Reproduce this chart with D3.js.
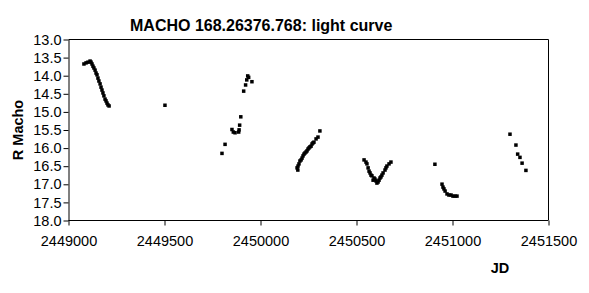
<!DOCTYPE html>
<html>
<head>
<meta charset="utf-8">
<script src="https://cdn.jsdelivr.net/npm/d3@7"></script>
<style>
  body { margin: 0; background: #fff; }
  svg { font-family: "Liberation Sans", Arial, sans-serif; }
</style>
</head>
<body>
<div id="chart"></div>
<script>
    // light curve
    var jd = [
      2449083, 2449094, 2449104, 2449115, 2449120, 2449125, 2449130, 2449135, 2449141, 2449146,
      2449151, 2449156, 2449161, 2449167, 2449172, 2449177, 2449182, 2449187, 2449193, 2449198,
      2449203, 2449208, 2449214,
      2449505,
      2449802, 2449818, 2449854, 2449861, 2449870, 2449889, 2449891, 2449894, 2449900,
      2449915, 2449925, 2449931, 2449936, 2449941, 2449958,
      2450193, 2450197, 2450198, 2450203, 2450208, 2450214, 2450219, 2450224, 2450229, 2450234,
      2450240, 2450245, 2450250, 2450255, 2450260, 2450266, 2450271, 2450276, 2450281, 2450292,
      2450302, 2450312,
      2450542, 2450552, 2450557, 2450563, 2450568, 2450573, 2450578, 2450583, 2450589, 2450594,
      2450599, 2450604, 2450609, 2450615, 2450620, 2450625, 2450630, 2450635, 2450641, 2450651,
      2450656, 2450661, 2450672, 2450682,
      2450911, 2450948, 2450953, 2450958, 2450964, 2450974, 2450984, 2450995, 2451005, 2451016,
      2451026,
      2451302, 2451333, 2451342, 2451354, 2451365, 2451385
    ];
    var mag = [
      13.69, 13.66, 13.64, 13.61, 13.64, 13.69, 13.75, 13.80, 13.86, 13.94,
      13.99, 14.08, 14.16, 14.24, 14.33, 14.41, 14.49, 14.57, 14.66, 14.71,
      14.77, 14.82, 14.85,
      14.83,
      16.16, 15.91, 15.50, 15.57, 15.59, 15.57, 15.51, 15.38, 15.15,
      14.44, 14.27, 14.13, 14.02, 14.06, 14.18,
      16.56, 16.62, 16.51, 16.45, 16.37, 16.34, 16.29, 16.23, 16.18, 16.15,
      16.12, 16.09, 16.04, 16.01, 15.98, 15.96, 15.90, 15.87, 15.85, 15.76,
      15.71, 15.54,
      16.34, 16.40, 16.45, 16.56, 16.65, 16.70, 16.76, 16.78, 16.90, 16.84,
      16.87, 16.92, 16.98, 16.95, 16.90, 16.84, 16.81, 16.76, 16.70, 16.62,
      16.56, 16.51, 16.45, 16.40,
      16.46, 17.01, 17.09, 17.14, 17.20, 17.28, 17.31, 17.31, 17.34, 17.34,
      17.34,
      15.63, 15.93, 16.18, 16.27, 16.43, 16.63
    ];
    var xTicks = [2449000, 2449500, 2450000, 2450500, 2451000, 2451500];
    var yTicks = [13, 13.5, 14, 14.5, 15, 15.5, 16, 16.5, 17, 17.5, 18];

    var data = jd.map(function (d, i) { return { jd: d, mag: mag[i] }; });

    var svg = d3.select("#chart").append("svg")
      .attr("width", 589)
      .attr("height", 293);

    var x = d3.scaleLinear().domain([2449000, 2451500]).range([68, 548]);
    var y = d3.scaleLinear().domain([13, 18]).range([39, 220]);

    // frame top + right
    svg.append("path")
      .attr("d", "M68.5,39.5H548.5V220")
      .attr("fill", "none")
      .attr("stroke", "#000");

    var xAxis = svg.append("g")
      .attr("transform", "translate(0.5,220.5)")
      .call(d3.axisBottom(x).tickValues(xTicks).tickSize(5).tickSizeOuter(0)
        .tickPadding(10).tickFormat(d3.format("d")));
    var yAxis = svg.append("g")
      .attr("transform", "translate(68.5,0.5)")
      .call(d3.axisLeft(y).tickValues(yTicks).tickSize(5).tickSizeOuter(0)
        .tickPadding(2).tickFormat(d3.format(".1f")));

    svg.selectAll(".tick text")
      .style("font-family", "Liberation Sans, Arial, sans-serif")
      .style("font-size", "14.5px")
      .attr("fill", "#000");
    xAxis.selectAll(".domain").attr("d", "M68,0H548");

    svg.selectAll("rect.pt")
      .data(data)
      .enter()
      .append("rect")
        .attr("class", "pt")
        .attr("x", function (d) { return x(d.jd) - 1.75; })
        .attr("y", function (d) { return y(d.mag) - 1.75; })
        .attr("width", 3.5)
        .attr("height", 3.5)
        .attr("fill", "#000");

    svg.append("text")
      .attr("x", 130)
      .attr("y", 31)
      .style("font-size", "16px")
      .style("font-weight", "bold")
      .text("MACHO 168.26376.768: light curve");

    svg.append("text")
      .attr("transform", "translate(23,130) rotate(-90)")
      .style("text-anchor", "middle")
      .style("font-size", "14.5px")
      .style("font-weight", "bold")
      .text("R Macho");

    svg.append("text")
      .attr("x", 500)
      .attr("y", 273)
      .style("text-anchor", "middle")
      .style("font-size", "14.5px")
      .style("font-weight", "bold")
      .text("JD");
</script>
</body>
</html>
